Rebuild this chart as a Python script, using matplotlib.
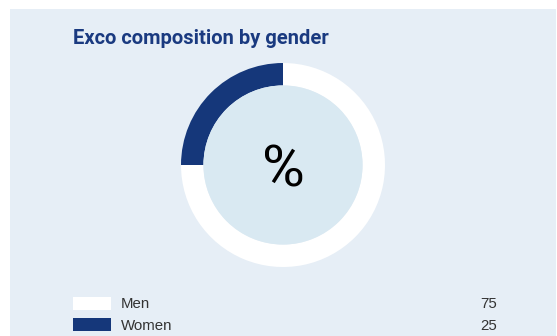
import matplotlib.pyplot as plt
from matplotlib.patches import Rectangle, Circle

categories = ["Men", "Women"]
values = [75, 25]
colors = ["#ffffff", "#15377a"]
title = "Exco composition by gender"

W, H = 557, 336
fig = plt.figure(figsize=(W / 100, H / 100), dpi=100)
fig.patch.set_facecolor("white")

# panel background
fig.patches.append(Rectangle((10 / W, 0), (W - 11) / W, (H - 9) / H,
                             transform=fig.transFigure, facecolor="#e6eef6",
                             edgecolor="none", zorder=-1))

fig.text(73 / W, 1 - 39 / H, title, fontsize=14.5, fontweight="bold",
         color="#1a3a80", family="Roboto", va="center", ha="left")

# donut
cx, cy, r = 283, 165, 102
ax = fig.add_axes([(cx - r) / W, 1 - (cy + r) / H, 2 * r / W, 2 * r / H])
ax.patch.set_visible(False)
ax.pie(values, colors=colors, startangle=90, counterclock=False,
       radius=1, wedgeprops=dict(width=0.22, edgecolor="none"))
ax.add_patch(Circle((0, 0), 0.78, facecolor="#d9e9f2", edgecolor="none"))
ax.text(0, 0.0, "%", fontsize=42, ha="center", va="center_baseline",
        family="Roboto", color="black")
ax.set_xlim(-1, 1)
ax.set_ylim(-1, 1)
ax.set_aspect("equal")
ax.axis("off")

# legend
for i, (cat, val, col) in enumerate(zip(categories, values, colors)):
    ty = 303.5 + i * 22.5
    ry = 297 + i * 21
    fig.patches.append(Rectangle((73 / W, 1 - (ry + 12.5) / H), 38 / W, 12.5 / H,
                                 transform=fig.transFigure, facecolor=col,
                                 edgecolor="none", zorder=1))
    fig.text(121 / W, 1 - ty / H, cat, fontsize=10.8, color="#333333",
             family="Liberation Sans", va="center", ha="left")
    fig.text(497 / W, 1 - ty / H, str(val), fontsize=10.8, color="#333333",
             family="Liberation Sans", va="center", ha="right")

fig.savefig("out.png", dpi=100)
